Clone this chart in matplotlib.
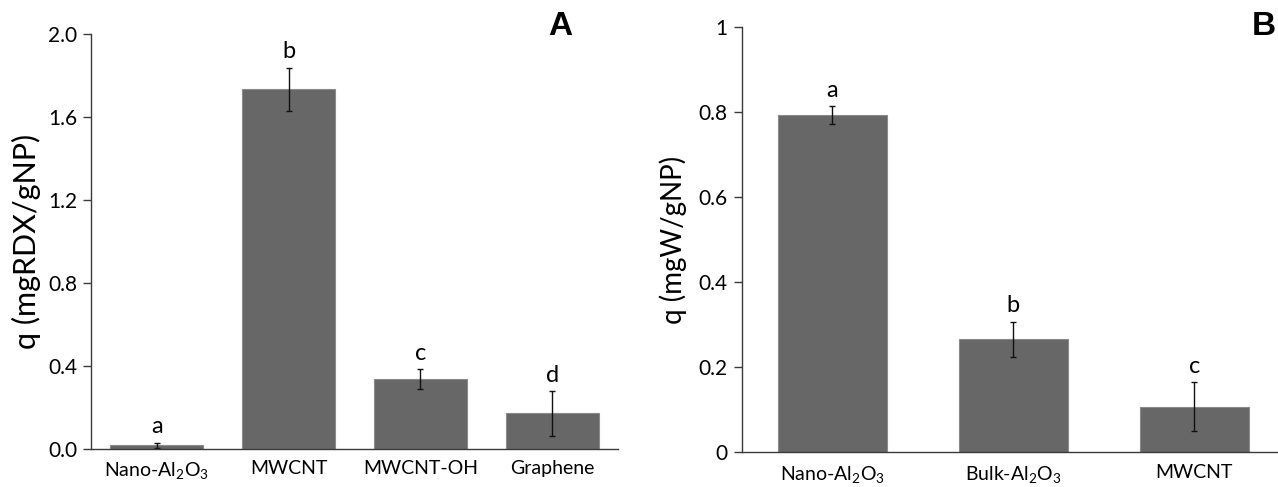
import matplotlib
matplotlib.use("Agg")
import matplotlib.pyplot as plt

plt.rcParams['font.family'] = ['Lato', 'DejaVu Sans']
plt.rcParams['mathtext.fontset'] = 'custom'
plt.rcParams['mathtext.rm'] = 'Lato'
plt.rcParams['mathtext.it'] = 'Lato'

# panel A
cats_a = ['Nano-Al$_2$O$_3$', 'MWCNT', 'MWCNT-OH', 'Graphene']
vals_a = [0.019, 1.735, 0.337, 0.173]
errs_a = [0.012, 0.105, 0.048, 0.107]
letters_a = ['a', 'b', 'c', 'd']
yticks_a = [0.0, 0.4, 0.8, 1.2, 1.6, 2.0]
yticklabels_a = ['0.0', '0.4', '0.8', '1.2', '1.6', '2.0']

# panel B
cats_b = ['Nano-Al$_2$O$_3$', 'Bulk-Al$_2$O$_3$', 'MWCNT']
vals_b = [0.793, 0.265, 0.106]
errs_b = [0.021, 0.041, 0.058]
letters_b = ['a', 'b', 'c']
yticks_b = [0, 0.2, 0.4, 0.6, 0.8, 1.0]
yticklabels_b = ['0', '0.2', '0.4', '0.6', '0.8', '1']

bar_color = '#676767'
spine_color = '#3a3a3a'

fig = plt.figure(figsize=(12.78, 4.87), dpi=100)
ax1 = fig.add_axes([0.0712, 0.0774, 0.4124, 0.852])
ax2 = fig.add_axes([0.5804, 0.0725, 0.4249, 0.8715])


def draw(ax, cats, vals, errs, letters, yticks, yticklabels, ylabel, ysize, width, pad):
    x = range(len(cats))
    ax.bar(x, vals, width=width, color=bar_color, edgecolor='#8a8a8a', linewidth=0.8)
    ax.errorbar(x, vals, yerr=errs, fmt='none', ecolor='#111111', elinewidth=1,
                capsize=2.5, capthick=1)
    for i in x:
        ax.annotate(letters[i], (i, vals[i] + errs[i]), xytext=(0, 4),
                    textcoords='offset points', ha='center', va='bottom', fontsize=17)
    ax.set_xlim(-0.5, len(cats) - 0.5)
    ax.set_ylim(yticks[0], yticks[-1])
    ax.set_yticks(yticks)
    ax.set_yticklabels(yticklabels, fontsize=15)
    ax.set_xticks(list(x))
    ax.set_xticklabels(cats, fontsize=14)
    ax.tick_params(axis='x', length=0, pad=pad)
    ax.tick_params(axis='y', length=6, width=1, color=spine_color, pad=4)
    for s in ['top', 'right']:
        ax.spines[s].set_visible(False)
    for s in ['left', 'bottom']:
        ax.spines[s].set_color(spine_color)
        ax.spines[s].set_linewidth(1)
    ax.set_ylabel(ylabel, fontsize=ysize)


draw(ax1, cats_a, vals_a, errs_a, letters_a, yticks_a, yticklabels_a,
     'q (mgRDX/gNP)', 22, 0.706, 8)
draw(ax2, cats_b, vals_b, errs_b, letters_b, yticks_b, yticklabels_b,
     'q (mgW/gNP)', 20, 0.6, 9)
ax1.yaxis.set_label_coords(-0.095, 0.5)
ax2.yaxis.set_label_coords(-0.1, 0.5)

fig.text(0.438, 0.945, 'A', fontsize=24, fontweight='bold', ha='center', va='center',
         family='Liberation Sans')
fig.text(0.998, 0.945, 'B', fontsize=24, fontweight='bold', ha='right', va='center',
         family='Liberation Sans')

fig.savefig('out.png', dpi=100)
